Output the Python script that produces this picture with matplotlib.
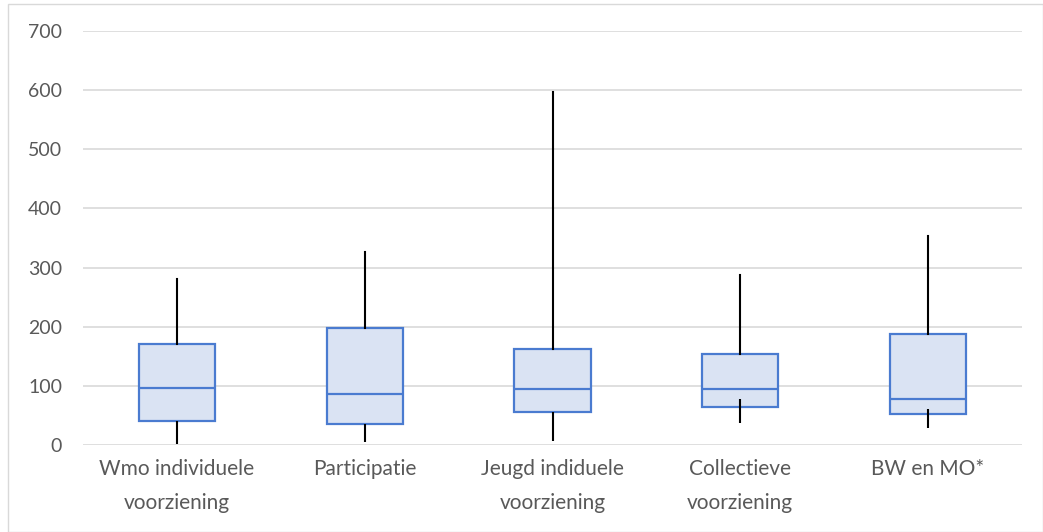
import matplotlib
matplotlib.use("Agg")
import matplotlib.pyplot as plt
from matplotlib.patches import Rectangle

categories = ["Wmo individuele\nvoorziening", "Participatie", "Jeugd indiduele\nvoorziening",
              "Collectieve\nvoorziening", "BW en MO*"]
whisker_low = [2, 5, 7, 38, 28]
whisker_low_top = [40, 36, 55, 77, 61]
q1 = [40, 36, 55, 64, 53]
median = [97, 87, 95, 94, 77]
q3 = [171, 198, 163, 154, 188]
whisker_high = [280, 326, 597, 287, 354]
yticks = [0, 100, 200, 300, 400, 500, 600, 700]

plt.rcParams['font.family'] = ['Lato', 'DejaVu Sans']

fig = plt.figure(figsize=(10.43, 5.32), dpi=100)
ax = fig.add_axes([83/1043, 1-445/532, (1022-83)/1043, (445-31)/532])

stats = []
for i in range(len(categories)):
    stats.append(dict(med=median[i], q1=q1[i], q3=q3[i], whislo=q1[i], whishi=whisker_high[i], fliers=[]))

ax.bxp(stats, positions=range(len(categories)), widths=0.405, patch_artist=True,
       showcaps=False, showfliers=False,
       boxprops=dict(facecolor="#DAE3F3", edgecolor="#4A7BD0", linewidth=1.6),
       medianprops=dict(color="#4A7BD0", linewidth=1.6),
       whiskerprops=dict(color="black", linewidth=1.5),
       zorder=3)
ax.vlines(range(len(categories)), whisker_low, whisker_low_top, color="black", linewidth=1.5, zorder=4)

ax.set_xlim(-0.5, len(categories) - 0.5)
ax.set_ylim(0, 700)
ax.set_yticks(yticks)
ax.set_xticks(range(len(categories)))
ax.set_xticklabels(categories)
ax.yaxis.grid(True, color="#D9D9D9", linewidth=1.2, zorder=0)
ax.set_axisbelow(True)
for s in ax.spines.values():
    s.set_visible(False)
ax.tick_params(axis='both', length=0, colors="#595959")
ax.tick_params(axis='y', pad=15, labelsize=14)
ax.tick_params(axis='x', pad=10, labelsize=15)
for lbl in ax.get_xticklabels():
    lbl.set_linespacing(1.9)

fig.add_artist(Rectangle((8/1043, 0), (1043-8)/1043, 1-3.5/532, transform=fig.transFigure,
                         fill=False, edgecolor="#D9D9D9", linewidth=1.0))

fig.savefig("out.png", dpi=100)
